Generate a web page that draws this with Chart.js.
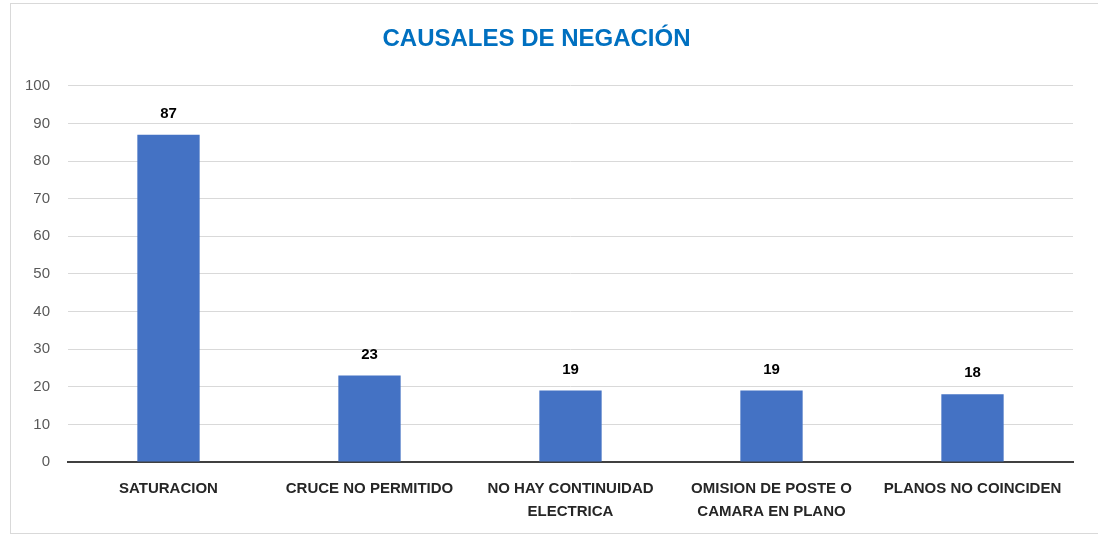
<!DOCTYPE html>
<html>
<head>
<meta charset="utf-8">
<script src="https://cdn.jsdelivr.net/npm/chart.js@4.4.1/dist/chart.umd.min.js"></script>
<style>
  html, body { margin: 0; padding: 0; background: #fff; }
  #wrap { position: relative; width: 1098px; height: 537px; }
  #frame { position: absolute; left: 10px; top: 3px; right: 0; bottom: 3px; border-left: 1px solid #d9d9d9; border-top: 1px solid #d9d9d9; border-bottom: 1px solid #d9d9d9; }
  canvas { position: absolute; left: 0; top: 0; }
</style>
</head>
<body>
<div id="wrap">
  <div id="frame"></div>
  <canvas id="causalesChart" width="1098" height="537"></canvas>
</div>
<script>
const categories = [
  "SATURACION",
  "CRUCE NO PERMITIDO",
  ["NO HAY CONTINUIDAD", "ELECTRICA"],
  ["OMISION DE POSTE O", "CAMARA EN PLANO"],
  "PLANOS NO COINCIDEN",
];
const counts = [87, 23, 19, 19, 18];
const yMin = 0;
const yMax = 100;
const yStep = 10;

const labelFont = "'Liberation Sans', Arial, sans-serif";

// draws the value above each bar
const valueLabels = {
  id: "valueLabels",
  afterDatasetsDraw(chart) {
    const ctx = chart.ctx;
    const meta = chart.getDatasetMeta(0);
    ctx.save();
    ctx.font = "bold 15px " + labelFont;
    ctx.fillStyle = "#000";
    ctx.textAlign = "center";
    ctx.textBaseline = "middle";
    meta.data.forEach((bar, i) => {
      ctx.fillText(String(counts[i]), bar.x, bar.y - 21);
    });
    ctx.restore();
  },
};

const ctx = document.getElementById("causalesChart").getContext("2d");

new Chart(ctx, {
  type: "bar",
  data: {
    labels: categories,
    datasets: [
      {
        label: "Causales",
        data: counts,
        backgroundColor: "#4472C4",
        categoryPercentage: 1,
        barPercentage: 0.31,
      },
    ],
  },
  options: {
    responsive: false,
    animation: false,
    layout: {
      padding: { left: 0, right: 25, top: 0, bottom: 0 },
    },
    plugins: {
      legend: { display: false },
      tooltip: { enabled: false },
      title: {
        display: true,
        text: "CAUSALES DE NEGACIÓN",
        color: "#0070C0",
        font: { family: labelFont, size: 24, weight: "bold" },
        padding: { top: 25, bottom: 32 },
      },
    },
    scales: {
      x: {
        grid: { display: false, drawTicks: false },
        border: { color: "#404040", width: 2 },
        ticks: {
          color: "#262626",
          font: { family: labelFont, size: 15, weight: "bold", lineHeight: 1.5 },
          padding: 16,
          maxRotation: 0,
          autoSkip: false,
        },
        afterFit(scale) {
          scale.height = 75;
        },
      },
      y: {
        min: yMin,
        max: yMax,
        ticks: {
          stepSize: yStep,
          color: "#595959",
          font: { family: labelFont, size: 15 },
          padding: 18,
        },
        grid: { color: "#d9d9d9", drawTicks: false },
        border: { display: false },
        afterFit(scale) {
          scale.width = 68;
        },
      },
    },
  },
  plugins: [valueLabels],
});
</script>
</body>
</html>
